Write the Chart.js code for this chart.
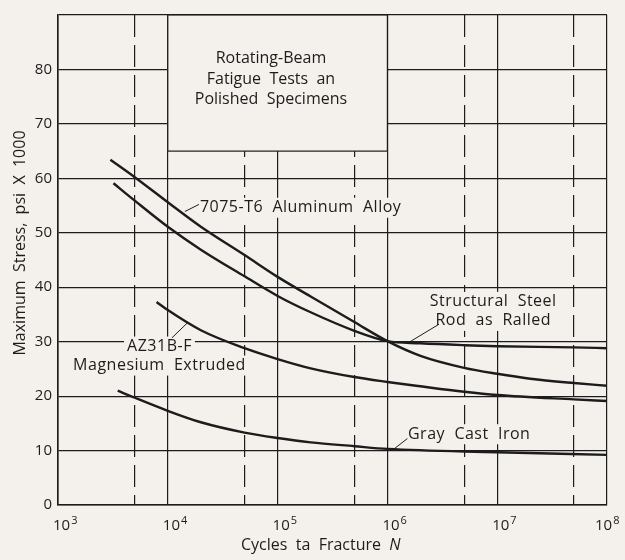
<!DOCTYPE html>
<html>
<head>
<meta charset="utf-8">
<script src="https://cdn.jsdelivr.net/npm/chart.js@4.4.1/dist/chart.umd.min.js"></script>
<style>
html, body { margin: 0; padding: 0; background: #f4f1ec; }
</style>
</head>
<body>
<canvas id="chart" width="625" height="560"></canvas>
<script>
// values (cycles, ksi)
const alumCycles = [3e3, 5e3, 1e4, 2e4, 5e4, 1e5, 2e5, 5e5, 1e6, 2e6, 5e6, 1e7, 2e7, 5e7, 1e8];
const alumStress = [63.4, 60.2, 55.6, 51.1, 45.9, 41.9, 38.3, 33.6, 30.1, 27.4, 25.2, 24.1, 23.2, 22.4, 21.9];

const steelCycles = [3.2e3, 5e3, 1e4, 2e4, 5e4, 1e5, 2e5, 5e5, 1e6, 2e6, 5e6, 1e7, 5e7, 1e8];
const steelStress = [59.1, 55.9, 51.1, 46.9, 42.0, 38.4, 35.4, 32.0, 30.1, 29.7, 29.35, 29.15, 28.95, 28.8];

const magCycles = [7.9e3, 1e4, 2e4, 5e4, 1e5, 2e5, 5e5, 1e6, 2e6, 5e6, 1e7, 5e7, 1e8];
const magStress = [37.3, 35.8, 32.1, 28.8, 26.8, 25.1, 23.5, 22.6, 21.8, 20.8, 20.2, 19.4, 19.1];

const ironCycles = [3.5e3, 5e3, 1e4, 2e4, 5e4, 1e5, 2e5, 5e5, 1e6, 1e7, 1e8];
const ironStress = [21, 19.7, 17.3, 15.2, 13.3, 12.3, 11.5, 10.8, 10.3, 9.7, 9.2];

const xGrid = [1e3, 5e3, 1e4, 5e4, 1e5, 5e5, 1e6, 5e6, 1e7, 5e7, 1e8];
const xDecades = [3, 4, 5, 6, 7, 8];

const BG = '#f4f1ec';
const INK = '#1c1c1c';
const FONT = '"Open Sans", "DejaVu Sans", sans-serif';

const pts = (xs, ys) => xs.map((v, i) => ({ x: v, y: ys[i] }));
const isDecade = v => Math.abs(Math.log10(v) - Math.round(Math.log10(v))) < 1e-6;

// annotation text, placed in data coordinates
const notes = [
    { lines: ['7075-T6  Aluminum  Alloy'], at: [1.96e4, 54.6], align: 'left', leader: [[1.43e4, 53.9], [1.92e4, 55.2]] },
    { lines: ['AZ31B-F', 'Magnesium  Extruded'], at: [8.4e3, 29.1], align: 'center', leader: [[1.09e4, 30.7], [1.5e4, 33.4]] },
    { lines: ['Structural  Steel', 'Rod  as  Ralled'], at: [9.2e6, 37.3], align: 'center', leader: [[2.95e6, 33.2], [1.61e6, 30.0]] },
    { lines: ['Gray  Cast  Iron'], at: [1.54e6, 13.0], align: 'left', leader: [[1.52e6, 12.2], [1.15e6, 10.3]] }
];
const boxLines = ['Rotating-Beam', 'Fatigue  Tests  an', 'Polished  Specimens'];

function line(ctx, x1, y1, x2, y2) {
    ctx.beginPath();
    ctx.moveTo(x1, y1);
    ctx.lineTo(x2, y2);
    ctx.stroke();
}

const decor = {
    id: 'decor',
    beforeDatasetsDraw(chart) {
        const ctx = chart.ctx, xs = chart.scales.x, ys = chart.scales.y;
        ctx.save();
        ctx.font = '16px ' + FONT;
        ctx.fillStyle = INK;
        ctx.strokeStyle = INK;

        // title box over the grid
        const bx1 = xs.getPixelForValue(1e4), bx2 = xs.getPixelForValue(1e6);
        const by1 = ys.getPixelForValue(90), by2 = ys.getPixelForValue(65);
        ctx.fillStyle = BG;
        ctx.fillRect(bx1, by1, bx2 - bx1, by2 - by1);
        ctx.lineWidth = 1.2;
        ctx.strokeRect(bx1, by1, bx2 - bx1, by2 - by1);
        ctx.fillStyle = INK;
        ctx.textAlign = 'center';
        ctx.textBaseline = 'middle';
        const cx = xs.getPixelForValue(8.7e4);
        const cy = ys.getPixelForValue(78.2);
        boxLines.forEach((t, i) => ctx.fillText(t, cx, cy + (i - 1) * 20.5));

        // curve labels with a blank background
        ctx.letterSpacing = '0.5px';
        notes.forEach(n => {
            const px = xs.getPixelForValue(n.at[0]), py = ys.getPixelForValue(n.at[1]);
            ctx.textAlign = n.align;
            n.lines.forEach((t, i) => {
                const w = ctx.measureText(t).width;
                const y = py + i * 19;
                const left = n.align === 'center' ? px - w / 2 : px;
                ctx.fillStyle = BG;
                ctx.fillRect(left - 3, y - 10, w + 6, 20);
                ctx.fillStyle = INK;
                ctx.fillText(t, px, y);
            });
            ctx.lineWidth = 1;
            const a = n.leader[0], b = n.leader[1];
            line(ctx, xs.getPixelForValue(a[0]), ys.getPixelForValue(a[1]),
                xs.getPixelForValue(b[0]), ys.getPixelForValue(b[1]));
        });
        ctx.restore();
    },
    afterDraw(chart) {
        const ctx = chart.ctx, xs = chart.scales.x, area = chart.chartArea;
        ctx.save();
        ctx.fillStyle = INK;
        ctx.textBaseline = 'alphabetic';
        ctx.textAlign = 'left';
        // x tick labels 10^n
        xDecades.forEach(d => {
            const px = xs.getPixelForValue(Math.pow(10, d));
            const left = d === 8 ? px - 12 : px - 5;
            ctx.font = '15px ' + FONT;
            const w = ctx.measureText('10').width;
            ctx.fillText('10', left, area.bottom + 25);
            ctx.font = '11px ' + FONT;
            ctx.fillText(String(d), left + w + 1, area.bottom + 19);
        });
        // x title
        ctx.font = '16px ' + FONT;
        const t1 = 'Cycles  ta  Fracture  ';
        ctx.fillText(t1, 241, area.bottom + 45);
        const w1 = ctx.measureText(t1).width;
        ctx.font = 'italic 16px ' + FONT;
        ctx.fillText('N', 241 + w1, area.bottom + 45);
        // y title
        ctx.font = '16px ' + FONT;
        ctx.translate(20, 243);
        ctx.rotate(-Math.PI / 2);
        ctx.textAlign = 'center';
        ctx.textBaseline = 'middle';
        ctx.fillText('Maximum  Stress,  psi  X  1000', 0, 0);
        ctx.restore();
    }
};

const curve = (label, xs, ys) => ({
    label: label,
    data: pts(xs, ys),
    borderColor: INK,
    borderWidth: 2.4,
    pointRadius: 0,
    fill: false,
    cubicInterpolationMode: 'monotone'
});

new Chart(document.getElementById('chart'), {
    type: 'line',
    data: {
        datasets: [
            curve('7075-T6 Aluminum Alloy', alumCycles, alumStress),
            curve('Structural Steel Rod as Ralled', steelCycles, steelStress),
            curve('AZ31B-F Magnesium Extruded', magCycles, magStress),
            curve('Gray Cast Iron', ironCycles, ironStress)
        ]
    },
    options: {
        responsive: false,
        animation: false,
        layout: { padding: { top: 9, right: 18, left: 0, bottom: 0 } },
        plugins: { legend: { display: false }, tooltip: { enabled: false } },
        scales: {
            x: {
                type: 'logarithmic',
                min: 1e3,
                max: 1e8,
                afterBuildTicks: s => { s.ticks = xGrid.map(v => ({ value: v })); },
                afterFit: s => { s.height = 55; },
                ticks: { display: false },
                grid: { color: INK, lineWidth: 1.2, drawTicks: false },
                border: {
                    color: INK, width: 1.6,
                    dash: c => (c.tick && !isDecade(c.tick.value)) ? [22, 8] : []
                }
            },
            y: {
                min: 0,
                max: 90,
                afterFit: s => { s.width = 58; },
                ticks: {
                    stepSize: 10,
                    padding: 6,
                    color: INK,
                    font: { family: FONT, size: 15 },
                    callback: v => v === 90 ? '' : v
                },
                grid: { color: INK, lineWidth: 1.2, drawTicks: false },
                border: { color: INK, width: 1.6 }
            }
        }
    },
    plugins: [decor]
});
</script>
</body>
</html>
